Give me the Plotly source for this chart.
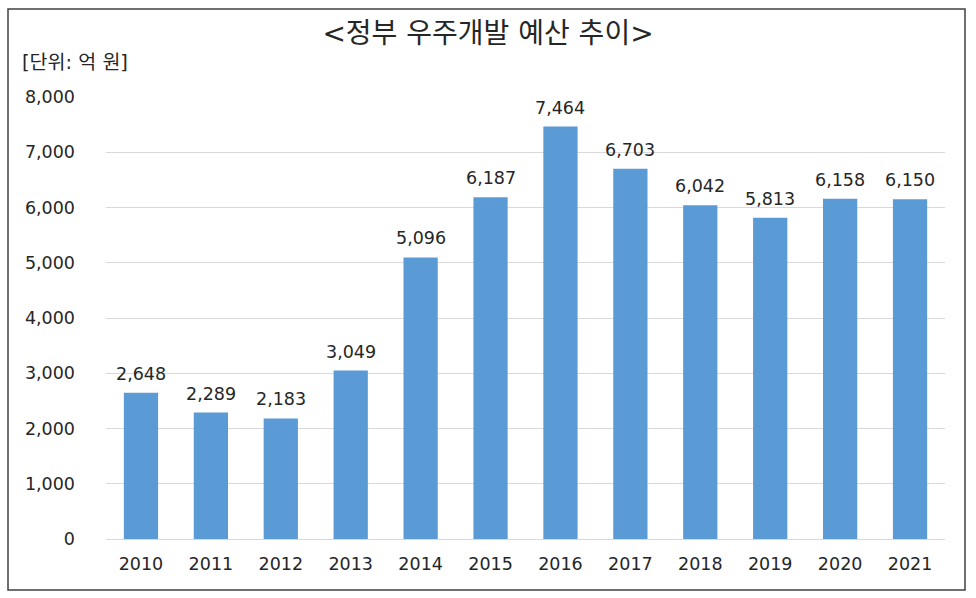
import plotly.graph_objects as go

years = ['2010', '2011', '2012', '2013', '2014', '2015',
         '2016', '2017', '2018', '2019', '2020', '2021']
budget = [2648, 2289, 2183, 3049, 5096, 6187, 7464, 6703, 6042, 5813, 6158, 6150]

tick_vals = [0, 1000, 2000, 3000, 4000, 5000, 6000, 7000, 8000]
tick_text = ['0', '1,000', '2,000', '3,000', '4,000', '5,000', '6,000', '7,000', '8,000']

font = 'DejaVu Sans, Noto Sans CJK KR, sans-serif'

fig = go.Figure(data=[go.Bar(
    x=years,
    y=budget,
    marker_color='#5B9BD5',
    marker_line_width=0,
    hoverinfo='x+y',
)])

# value labels above each bar (category axis -> use the category index)
for i, v in enumerate(budget):
    fig.add_annotation(x=i, y=v, text=f'{v:,}', showarrow=False,
                       yanchor='bottom', yshift=7,
                       font=dict(size=17.5, color='#262626', family=font))

fig.update_layout(
    width=976, height=598,
    margin=dict(l=106, r=31, t=97, b=59),
    paper_bgcolor='white',
    plot_bgcolor='white',
    bargap=0.51,
    showlegend=False,
    font=dict(family=font, color='#262626'),
    title=dict(text='&lt;정부 우주개발 예산 추이&gt;', x=0.5, xanchor='center',
               y=1 - 33 / 598, yanchor='middle',
               font=dict(size=28, color='#262626', family=font)),
    xaxis=dict(type='category', showgrid=False, showline=False, ticks='',
               ticklabelstandoff=12,
               tickfont=dict(size=17.5, color='#262626')),
    yaxis=dict(range=[0, 8000], tickvals=tick_vals, ticktext=tick_text,
               showgrid=True, gridcolor='#d9d9d9', gridwidth=1,
               zeroline=True, zerolinecolor='#d9d9d9', zerolinewidth=1,
               showline=False, ticks='', ticklabelstandoff=30,
               tickfont=dict(size=17.5, color='#262626')),
)

fig.add_annotation(text='[단위: 억 원]', xref='paper', yref='paper',
                   x=(20 - 106) / 839, y=(539 - 62) / 442,
                   xanchor='left', yanchor='middle', showarrow=False,
                   font=dict(size=19.5, color='#262626', family=font))

# outer frame around the whole chart
fig.add_shape(type='rect', xref='paper', yref='paper',
              x0=(8 - 106) / 839, x1=(965 - 106) / 839,
              y0=(539 - 590) / 442, y1=(539 - 9) / 442,
              line=dict(color='#404040', width=1.5), fillcolor='rgba(0,0,0,0)')

fig.write_html('out.html', config={'displayModeBar': False},
               post_script="document.body.style.margin='0';")
